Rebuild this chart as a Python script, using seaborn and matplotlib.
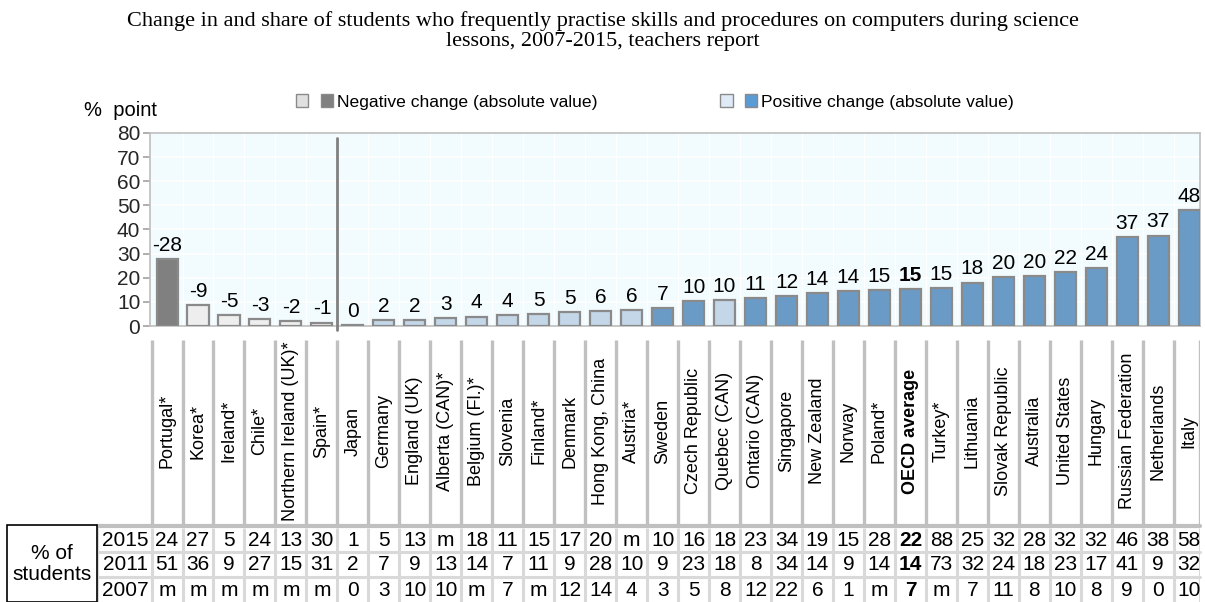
import numpy as np
import pandas as pd
import matplotlib
matplotlib.use("Agg")
import matplotlib.pyplot as plt
import seaborn as sns
from matplotlib import font_manager
from matplotlib.patches import Rectangle, Patch
from matplotlib.legend_handler import HandlerTuple

# data
countries = ["Portugal*", "Korea*", "Ireland*", "Chile*", "Northern Ireland (UK)*", "Spain*",
             "Japan", "Germany", "England (UK)", "Alberta (CAN)*", "Belgium (Fl.)*", "Slovenia",
             "Finland*", "Denmark", "Hong Kong, China", "Austria*", "Sweden", "Czech Republic",
             "Quebec (CAN)", "Ontario (CAN)", "Singapore", "New Zealand", "Norway", "Poland*",
             "OECD average", "Turkey*", "Lithuania", "Slovak Republic", "Australia",
             "United States", "Hungary", "Russian Federation", "Netherlands", "Italy"]
change_label = [-28, -9, -5, -3, -2, -1, 0, 2, 2, 3, 4, 4, 5, 5, 6, 6, 7, 10, 10, 11, 12, 14,
                14, 15, 15, 15, 18, 20, 20, 22, 24, 37, 37, 48]
change_abs = [27.8, 8.8, 4.6, 2.8, 2.1, 1.4, 0.5, 2.3, 2.6, 3.4, 3.9, 4.4, 4.9, 5.6, 6.3, 6.5,
              7.4, 10.2, 10.6, 11.4, 12.3, 13.8, 14.5, 15.0, 15.2, 15.6, 18.0, 20.3, 20.6,
              22.4, 24.0, 37.0, 37.5, 48.0]
significant = [True, False, False, False, False, False, False, False, False, False, False,
               False, False, False, False, False, True, True, False, True, True, True, True,
               True, True, True, True, True, True, True, True, True, True, True]
share_2015 = ["24", "27", "5", "24", "13", "30", "1", "5", "13", "m", "18", "11", "15", "17",
              "20", "m", "10", "16", "18", "23", "34", "19", "15", "28", "22", "88", "25", "32",
              "28", "32", "32", "46", "38", "58"]
share_2011 = ["51", "36", "9", "27", "15", "31", "2", "7", "9", "13", "14", "7", "11", "9",
              "28", "10", "9", "23", "18", "8", "34", "14", "9", "14", "14", "73", "32", "24",
              "18", "23", "17", "41", "9", "32"]
share_2007 = ["m", "m", "m", "m", "m", "m", "0", "3", "10", "10", "m", "7", "m", "12", "14",
              "4", "3", "5", "8", "12", "22", "6", "1", "m", "7", "m", "7", "11", "8", "10",
              "8", "9", "0", "10"]
years = ["2015", "2011", "2007"]

sns.set_theme(style="white")
installed = {f.name for f in font_manager.fontManager.ttflist}
sans = "Liberation Sans Narrow" if "Liberation Sans Narrow" in installed else "Liberation Sans"
plt.rcParams["font.family"] = [sans, "DejaVu Sans"]
plt.rcParams["text.color"] = "black"

W, H = 1205, 602
def fx(px):
    return px / W
def fy(py):
    return 1 - py / H

fig = plt.figure(figsize=(12.05, 6.02), dpi=100, facecolor="white")

# colours
dark_grey, light_grey = "#808080", "#eeeeee"
dark_blue, light_blue = "#5b9bd5", "#bdd7ee"
colors = []
for lab, sig in zip(change_label, significant):
    if lab < 0:
        colors.append(dark_grey if sig else light_grey)
    else:
        colors.append(dark_blue if sig else light_blue)

df = pd.DataFrame({"country": countries, "value": change_abs})

x0, x1 = -0.55, 33.35
ax = fig.add_axes([fx(150), fy(326), fx(1200) - fx(150), fy(133) - fy(326)])
ax.set_facecolor("#f2fbfe")
sns.barplot(data=df, x="country", y="value", hue="country", palette=colors, legend=False,
            width=0.68, edgecolor="#8a8a8a", linewidth=1.6, ax=ax, zorder=3)
ax.set_xlim(x0, x1)
ax.set_ylim(0, 80)
ax.set_yticks(range(0, 81, 10))
ax.tick_params(axis="y", labelsize=15, length=5, color="#a6a6a6", left=True, pad=2)
ax.tick_params(axis="x", bottom=False, labelbottom=False)
ax.set_xlabel("")
ax.set_ylabel("")
for y in range(10, 80, 10):
    ax.axhline(y, color="white", lw=1.2, zorder=1)
for i in range(33):
    ax.axvline(i + 0.5, color="white", lw=1, zorder=1)
for s in ax.spines.values():
    s.set_color("#bfbfbf")
    s.set_linewidth(1.2)
ax.plot([5.5, 5.5], [-1.6, 78], color="#808080", lw=2, clip_on=False, zorder=4)

for i, (lab, h) in enumerate(zip(change_label, change_abs)):
    ax.annotate(str(lab), (i, h), xytext=(0, 3), textcoords="offset points",
                ha="center", va="bottom", fontsize=15,
                fontweight="bold" if countries[i] == "OECD average" else "normal")

# legend
neg = (Patch(facecolor="#e0e0e0", edgecolor="#8a8a8a"), Patch(facecolor=dark_grey, edgecolor="#8a8a8a"))
pos = (Patch(facecolor="#deebf7", edgecolor="#8a8a8a"), Patch(facecolor=dark_blue, edgecolor="#8a8a8a"))
fig.legend([neg, pos], ["Negative change (absolute value)", "Positive change (absolute value)"],
           handler_map={tuple: HandlerTuple(ndivide=None, pad=0.7)},
           loc="center left", bbox_to_anchor=(fx(289), fy(102)), ncol=2, frameon=False,
           fontsize=12.6, handlelength=2.1, handleheight=0.75, handletextpad=0.25,
           columnspacing=7.0, borderaxespad=0)
fig.text(fx(84), fy(110), "%  point", fontsize=14.5, ha="left", va="center")

fig.text(0.5, fy(11), "Change in and share of students who frequently practise skills and procedures on computers during science\nlessons, 2007-2015, teachers report",
         ha="center", va="top", fontsize=16, family="Liberation Serif", linespacing=1.1)

# category labels + table
axt = fig.add_axes([fx(150), 0, fx(1200) - fx(150), fy(335)])
axt.set_xlim(x0, x1)
axt.set_ylim(H, 335)
axt.axis("off")
unit = (1200 - 150) / (x1 - x0)
def dx(px):
    return x0 + (px - 150) / unit

for i in range(35):
    xb = i - 0.5 if i < 34 else x1
    axt.plot([xb, xb], [340, 524], color="#c0c0c0", lw=2.4, solid_capstyle="butt")
    axt.plot([xb, xb], [528, H], color="#d9d9d9", lw=2.2, solid_capstyle="butt")
axt.plot([dx(97), dx(97)], [528, H], color="#d9d9d9", lw=2.2, clip_on=False)
axt.plot([dx(97), x1], [526, 526], color="#c0c0c0", lw=3, clip_on=False)
for yl in [552, 577]:
    axt.plot([dx(97), x1], [yl, yl], color="#d9d9d9", lw=2.2, clip_on=False)

for i, c in enumerate(countries):
    axt.text(i, 431, c, rotation=90, ha="center", va="center", fontsize=13,
             fontweight="bold" if c == "OECD average" else "normal")

row_y = [540, 565, 590]
for yy, row, yr in zip(row_y, [share_2015, share_2011, share_2007], years):
    axt.text(dx(125), yy, yr, ha="center", va="center", fontsize=15, clip_on=False)
    for i, v in enumerate(row):
        axt.text(i, yy, v, ha="center", va="center", fontsize=15,
                 fontweight="bold" if countries[i] == "OECD average" else "normal")

fig.patches.append(Rectangle((fx(7), 0), fx(97) - fx(7), fy(525), transform=fig.transFigure,
                             facecolor="white", edgecolor="black", lw=1.2))
fig.text(fx(52), fy(564), "% of\nstudents", ha="center", va="center", fontsize=15,
         linespacing=1.1)

plt.savefig("out.png", dpi=100)
